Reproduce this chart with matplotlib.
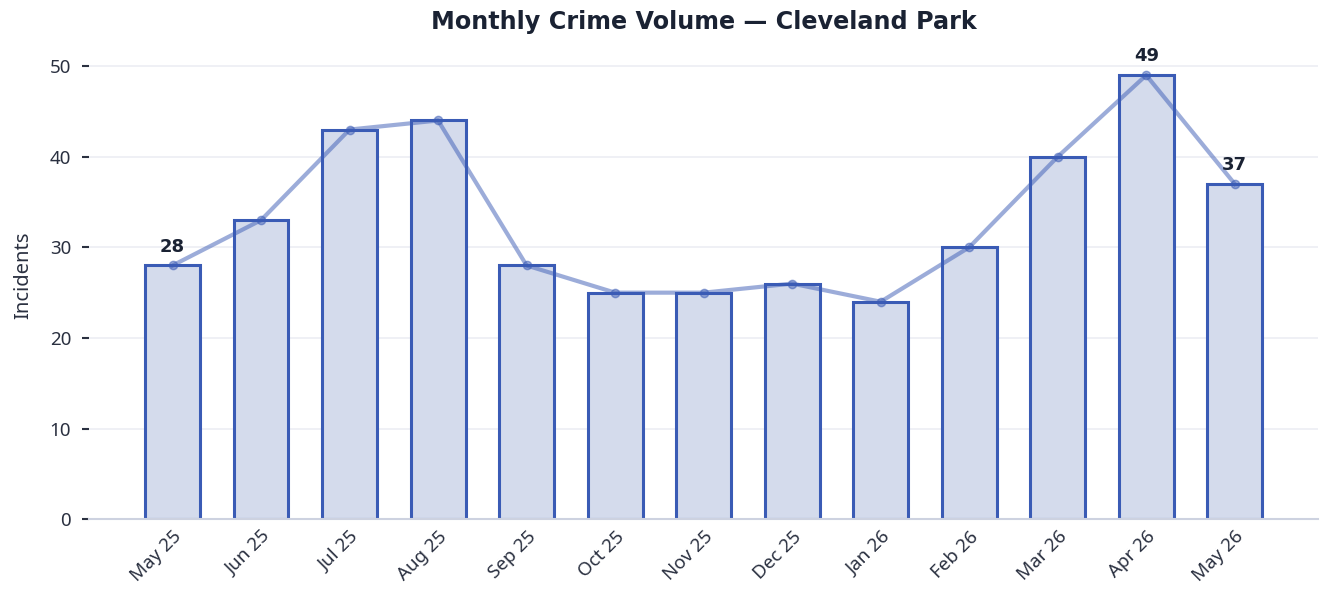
import matplotlib
matplotlib.use('Agg')
import matplotlib.pyplot as plt
import numpy as np

months = ['May 25', 'Jun 25', 'Jul 25', 'Aug 25', 'Sep 25', 'Oct 25', 'Nov 25',
          'Dec 25', 'Jan 26', 'Feb 26', 'Mar 26', 'Apr 26', 'May 26']
incidents = [28, 33, 43, 44, 28, 25, 25, 26, 24, 30, 40, 49, 37]
labeled = [0, 11, 12]  # first, peak, last

edge = '#3a5bb5'
fill = '#d4dbec'
dark = '#1a2233'

fig = plt.figure(figsize=(13.22, 5.92), dpi=100)
ax = fig.add_axes([0.0675, 0.123, 0.9295, 0.825])

x = np.arange(len(months))
ax.bar(x, incidents, width=0.62, color=fill, edgecolor=edge, linewidth=2.2, zorder=2)
ax.plot(x, incidents, color=edge, alpha=0.5, linewidth=3, marker='o', markersize=6, zorder=3)

for i in labeled:
    ax.annotate(str(incidents[i]), (x[i], incidents[i]), xytext=(0, 7),
                textcoords='offset points', ha='center', va='bottom',
                fontsize=13, fontweight='bold', color=dark, family='DejaVu Sans')

ax.set_ylim(0, max(incidents) * 1.1)
ax.set_yticks([0, 10, 20, 30, 40, 50])
ax.set_xticks(x)
ax.set_xticklabels(months, rotation=45, ha='right', rotation_mode='anchor')
for lab in ax.get_xticklabels() + ax.get_yticklabels():
    lab.set_family('Noto Sans')
    lab.set_fontsize(13.5)
    lab.set_color('#2a3040')
ax.tick_params(axis='x', length=0, pad=6)
ax.tick_params(axis='y', length=5, width=1.5, color='#2a3040', pad=8)
ax.set_ylabel('Incidents', fontsize=14.5, family='Noto Sans', color='#2a3040', labelpad=12)

ax.yaxis.grid(True, color='#eceef3', linewidth=1.2, zorder=0)
ax.set_axisbelow(True)
for s in ['top', 'right', 'left']:
    ax.spines[s].set_visible(False)
ax.spines['bottom'].set_color('#cdd2e0')
ax.spines['bottom'].set_linewidth(1.5)

fig.text(0.5326, 1 - 22 / 592, 'Monthly Crime Volume — Cleveland Park', fontsize=17.2,
         fontweight='bold', color=dark, family='DejaVu Sans', ha='center', va='center')

plt.savefig('out.png', dpi=100)
